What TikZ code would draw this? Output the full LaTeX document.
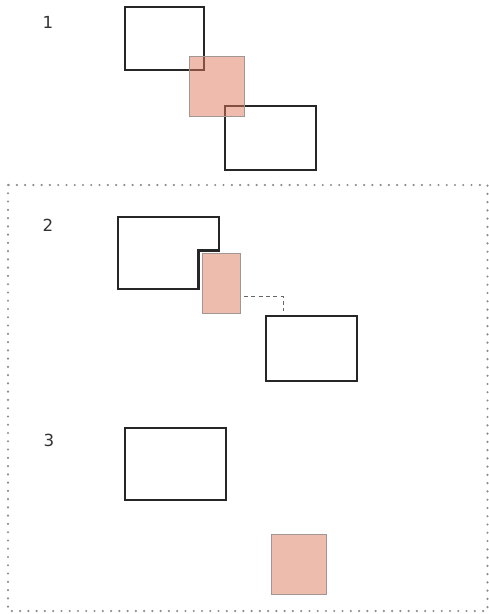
\documentclass[tikz,border=0pt]{standalone}
\usepackage{fontspec}
\setmainfont{DejaVu Sans}
\usetikzlibrary{calc}
\definecolor{salmon}{RGB}{224,120,90}
\definecolor{salmonfill}{RGB}{237,188,173}
\definecolor{edgegray}{RGB}{160,150,148}
\definecolor{inkgray}{RGB}{51,51,51}

\begin{document}
\begin{tikzpicture}[
    x=0.75pt, y=-0.75pt,
    font=\fontsize{12.5}{14}\selectfont,
    label/.style={text=inkgray, inner sep=0pt},
    outline/.style={draw=black!85, line width=1.65pt},
    box/.style={outline, rectangle, inner sep=0pt},
    ghost/.style={rectangle, inner sep=0pt},
    pinkbox/.style={rectangle, inner sep=0pt, draw=edgegray, line width=0.75pt,
                    fill=salmonfill},
    seethru/.style={rectangle, inner sep=0pt, draw=edgegray, line width=0.75pt,
                    fill=salmon, fill opacity=0.5},
    link/.style={draw=black!60, line width=0.75pt, dash pattern=on 3pt off 2.5pt},
    frame/.style={draw=black!45, line width=1.8pt, line cap=round,
                  dash pattern=on 0pt off 6.2pt},
]
\useasboundingbox (0,0) rectangle (489,614);

%% ── 1 ──────────────────────────────────────────────────────
\node[label] (n1) at (48,22) {1};
\node[box, minimum width=59.25pt, minimum height=47.25pt] (a1) at (164.5,38.5) {};
\node[box, minimum width=68.25pt, minimum height=48pt]    (b1) at (270.5,138) {};
\node[seethru, minimum width=41.25pt, minimum height=45pt] (p1) at (216.5,86) {};

%% ── frame round 2 and 3 ────────────────────────────────────
\coordinate (f0) at (8,185);
\coordinate (f1) at (487.5,611);
\draw[frame] (f0) rectangle (f1);

%% ── 2 ──────────────────────────────────────────────────────
\node[label] (n2) at (48,225) {2};
\node[pinkbox, minimum width=28.5pt, minimum height=45pt] (p2) at (221,283) {};
\node[ghost, minimum width=75.75pt, minimum height=54pt]  (a2) at (168.5,253) {};
\coordinate (notch) at ($(p2.north west)+(-3,-2)$);
\draw[outline] (a2.north west) -- (a2.north east) -- (a2.east |- notch)
  -- (notch) -- (notch |- a2.south) -- (a2.south west) -- cycle;
\node[box, minimum width=68.25pt, minimum height=48.75pt] (b2) at (311.5,348.5) {};

\coordinate (lk0) at (244,296);
\coordinate (lk1) at (283,311);
\draw[link] (lk0) -| (lk1);

%% ── 3 ──────────────────────────────────────────────────────
\node[label] (n3) at (49,440) {3};
\node[box, minimum width=75.75pt, minimum height=54pt]  (a3) at (175.5,464) {};
\node[pinkbox, minimum width=41.25pt, minimum height=45pt] (p3) at (298.5,564) {};

\end{tikzpicture}
\end{document}
